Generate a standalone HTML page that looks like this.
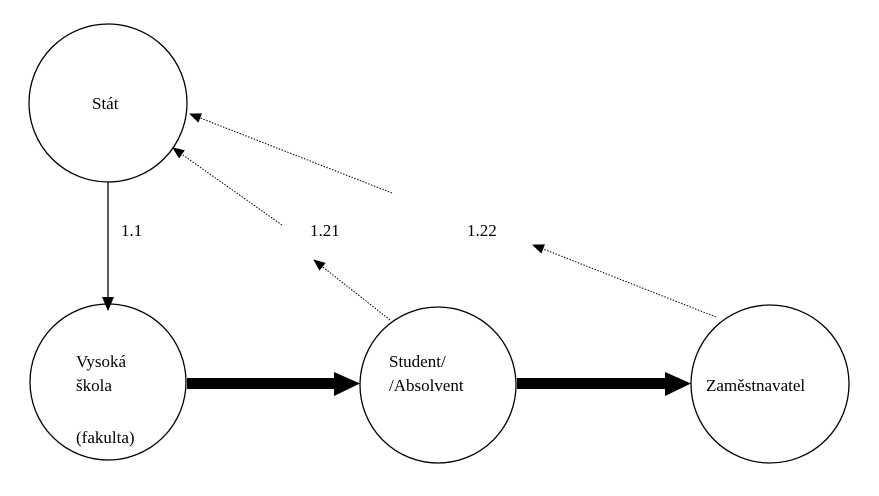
<!DOCTYPE html>
<html><head><meta charset="utf-8"><style>
html,body{margin:0;padding:0;background:#fff;}
svg{display:block;}
</style></head><body>
<svg width="879" height="496" viewBox="0 0 879 496">
<defs>
<marker id="a" markerWidth="12" markerHeight="10" refX="11" refY="5" orient="auto" markerUnits="userSpaceOnUse"><path d="M0,0 L12,5 L0,10 z" fill="#000"/></marker>
<marker id="s" markerWidth="14" markerHeight="12" refX="13" refY="6" orient="auto" markerUnits="userSpaceOnUse"><path d="M0,0 L14,6 L0,12 z" fill="#000"/></marker>
</defs>
<g fill="none" stroke="#000" stroke-width="1.3">
<circle cx="108" cy="103" r="79"/>
<circle cx="108" cy="382" r="78"/>
<circle cx="438" cy="385" r="78"/>
<circle cx="770" cy="384" r="79"/>
</g>
<line x1="108" y1="182" x2="108" y2="310" stroke="#000" stroke-width="1.3" marker-end="url(#s)"/>
<rect x="187" y="378" width="150" height="11" fill="#000"/>
<path d="M334,372 L360,383.5 L334,396 z" fill="#000"/>
<rect x="517" y="378" width="150" height="11" fill="#000"/>
<path d="M665,372 L691,383.5 L665,396 z" fill="#000"/>
<g stroke="#000" stroke-width="1" stroke-dasharray="1.5,1.5" fill="none">
<line x1="392" y1="193" x2="190" y2="114" marker-end="url(#a)"/>
<line x1="282" y1="225" x2="173" y2="148" marker-end="url(#a)"/>
<line x1="390" y1="320" x2="314" y2="260" marker-end="url(#a)"/>
<line x1="716" y1="317" x2="533" y2="245" marker-end="url(#a)"/>
</g>
<g font-family="Liberation Serif, DejaVu Serif, serif" font-size="17" fill="#000">
<text x="92" y="109">Stát</text>
<text x="121" y="236">1.1</text>
<text x="310" y="236">1.21</text>
<text x="467" y="236">1.22</text>
<text x="76" y="367">Vysoká</text>
<text x="76" y="391">škola</text>
<text x="76" y="443">(fakulta)</text>
<text x="389" y="367">Student/</text>
<text x="389" y="391">/Absolvent</text>
<text x="706" y="391">Zaměstnavatel</text>
</g>
</svg>
</body></html>
